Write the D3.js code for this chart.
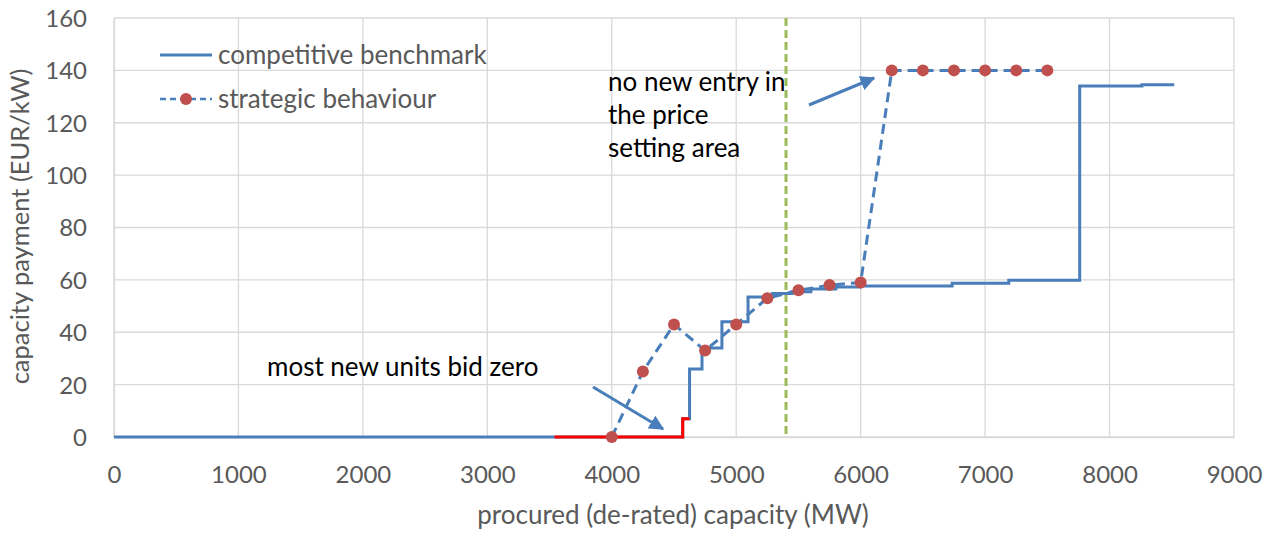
<!DOCTYPE html>
<html>
<head>
<meta charset="utf-8">
<script src="https://cdn.jsdelivr.net/npm/d3@7"></script>
<style>
  body { margin: 0; background: #fff; }
  svg { display: block; font-family: Lato, "Open Sans", sans-serif; }
</style>
</head>
<body>
<svg id="chart" width="1283" height="534"></svg>
<script>
// competitive benchmark : courbe en escalier (MW, EUR/kW)
var compX = [0, 4570, 4625, 4725, 4885, 5095, 5290, 5450, 5600, 5800, 6000, 6735, 7190, 7760, 8260, 8520];
var compY = [0, 7, 26, 34, 44, 53.5, 54.8, 55.5, 56.5, 57.3, 57.7, 58.7, 59.9, 134, 134.5, 134.5];

// partie en rouge (nouvelles unités qui offrent zéro)
var zeroX = [3540, 4570, 4625];
var zeroY = [0, 7, 7];

// strategic behaviour
var stratX = [4000, 4250, 4500, 4750, 5000, 5250, 5500, 5750, 6000, 6250, 6500, 6750, 7000, 7250, 7500];
var stratY = [0, 25, 43, 33, 43, 53, 56, 58, 59, 140, 140, 140, 140, 140, 140];

var xTicks = [0, 1000, 2000, 3000, 4000, 5000, 6000, 7000, 8000, 9000];
var yTicks = [0, 20, 40, 60, 80, 100, 120, 140, 160];

var markerX = 5400;

var blue = "#4a7ebb", red = "#c0504d";

var svg = d3.select("#chart");

var x = d3.scaleLinear().domain([0, 9000]).range([114, 1234]);
var y = d3.scaleLinear().domain([0, 160]).range([437, 18]);

// grille
svg.append("g")
  .selectAll("line")
  .data(xTicks)
  .enter().append("line")
    .attr("x1", d => x(d)).attr("x2", d => x(d))
    .attr("y1", y(160)).attr("y2", y(0))
    .attr("stroke", "#d9d9d9").attr("stroke-width", 1.3);

svg.append("g")
  .selectAll("line")
  .data(yTicks)
  .enter().append("line")
    .attr("x1", x(0)).attr("x2", x(9000))
    .attr("y1", d => y(d)).attr("y2", d => y(d))
    .attr("stroke", "#d9d9d9").attr("stroke-width", 1.3);

// axes
var xAxis = svg.append("g")
  .attr("transform", "translate(0," + y(0) + ")")
  .call(d3.axisBottom(x).tickValues(xTicks).tickSize(0).tickPadding(29).tickFormat(d3.format("d")));
var yAxis = svg.append("g")
  .attr("transform", "translate(" + x(0) + ",0)")
  .call(d3.axisLeft(y).tickValues(yTicks).tickSize(0).tickPadding(27));

[xAxis, yAxis].forEach(function(a) {
  a.select(".domain").attr("stroke", "#d9d9d9").attr("stroke-width", 1.3);
  a.selectAll("text").attr("fill", "#595959").style("font-size", "24px").attr("font-family", "Lato, 'Open Sans', sans-serif");
});
yAxis.selectAll("text").attr("dy", "0.35em");

svg.append("text")
  .attr("x", (x(0) + x(9000)) / 2 - 1).attr("y", 524)
  .attr("text-anchor", "middle")
  .attr("fill", "#595959").style("font-size", "26px")
  .text("procured (de-rated) capacity (MW)");

svg.append("text")
  .attr("transform", "translate(29," + ((y(0) + y(160)) / 2 - 1) + ") rotate(-90)")
  .attr("text-anchor", "middle")
  .attr("fill", "#595959").style("font-size", "25.5px")
  .text("capacity payment (EUR/kW)");

// ligne verticale verte
svg.append("line")
  .attr("x1", x(markerX)).attr("x2", x(markerX))
  .attr("y1", y(160)).attr("y2", y(0))
  .attr("stroke", "#9bbb59").attr("stroke-width", 3)
  .attr("stroke-dasharray", "8,4");

// courbes
var step = d3.line()
  .x(d => x(d[0])).y(d => y(d[1]))
  .curve(d3.curveStepAfter);

svg.append("path")
  .datum(d3.zip(compX, compY))
  .attr("d", step)
  .attr("fill", "none").attr("stroke", blue).attr("stroke-width", 3);

svg.append("path")
  .datum(d3.zip(zeroX, zeroY))
  .attr("d", step)
  .attr("fill", "none").attr("stroke", "#ff0000").attr("stroke-width", 3);

var straight = d3.line().x(d => x(d[0])).y(d => y(d[1]));
var strat = d3.zip(stratX, stratY);

svg.append("path")
  .datum(strat)
  .attr("d", straight)
  .attr("fill", "none").attr("stroke", blue).attr("stroke-width", 3)
  .attr("stroke-dasharray", "10,6");

svg.append("g")
  .selectAll("circle")
  .data(strat)
  .enter().append("circle")
    .attr("cx", d => x(d[0])).attr("cy", d => y(d[1]))
    .attr("r", 6).attr("fill", red);

// flèches
svg.append("defs").append("marker")
  .attr("id", "head")
  .attr("viewBox", "0 0 10 10")
  .attr("refX", 9).attr("refY", 5)
  .attr("markerWidth", 5).attr("markerHeight", 5)
  .attr("orient", "auto")
  .append("path").attr("d", "M0,0 L10,5 L0,10 Z").attr("fill", blue);

var arrows = [[593, 387, 663, 429], [809, 105, 874, 78]];
svg.append("g")
  .selectAll("line")
  .data(arrows)
  .enter().append("line")
    .attr("x1", d => d[0]).attr("y1", d => d[1])
    .attr("x2", d => d[2]).attr("y2", d => d[3])
    .attr("stroke", blue).attr("stroke-width", 3)
    .attr("marker-end", "url(#head)");

// annotations
svg.append("text")
  .attr("x", 267).attr("y", 376)
  .attr("fill", "#000").style("font-size", "26px")
  .text("most new units bid zero");

var note = ["no new entry in", "the price", "setting area"];
svg.append("g")
  .selectAll("text")
  .data(note)
  .enter().append("text")
    .attr("x", 608).attr("y", (d, i) => 91 + i * 33)
    .attr("fill", "#000").style("font-size", "26px")
    .text(d => d);

// légende
var leg = svg.append("g");
leg.append("line").attr("x1", 160).attr("x2", 212).attr("y1", 55).attr("y2", 55)
  .attr("stroke", blue).attr("stroke-width", 3);
leg.append("text").attr("x", 218).attr("y", 55).attr("dy", "0.35em")
  .attr("fill", "#595959").style("font-size", "26px").text("competitive benchmark");
leg.append("line").attr("x1", 160).attr("x2", 212).attr("y1", 99).attr("y2", 99)
  .attr("stroke", blue).attr("stroke-width", 2.5).attr("stroke-dasharray", "6,4");
leg.append("circle").attr("cx", 186).attr("cy", 99).attr("r", 6).attr("fill", red);
leg.append("text").attr("x", 218).attr("y", 99).attr("dy", "0.35em")
  .attr("fill", "#595959").style("font-size", "26px").text("strategic behaviour");
</script>
</body>
</html>
